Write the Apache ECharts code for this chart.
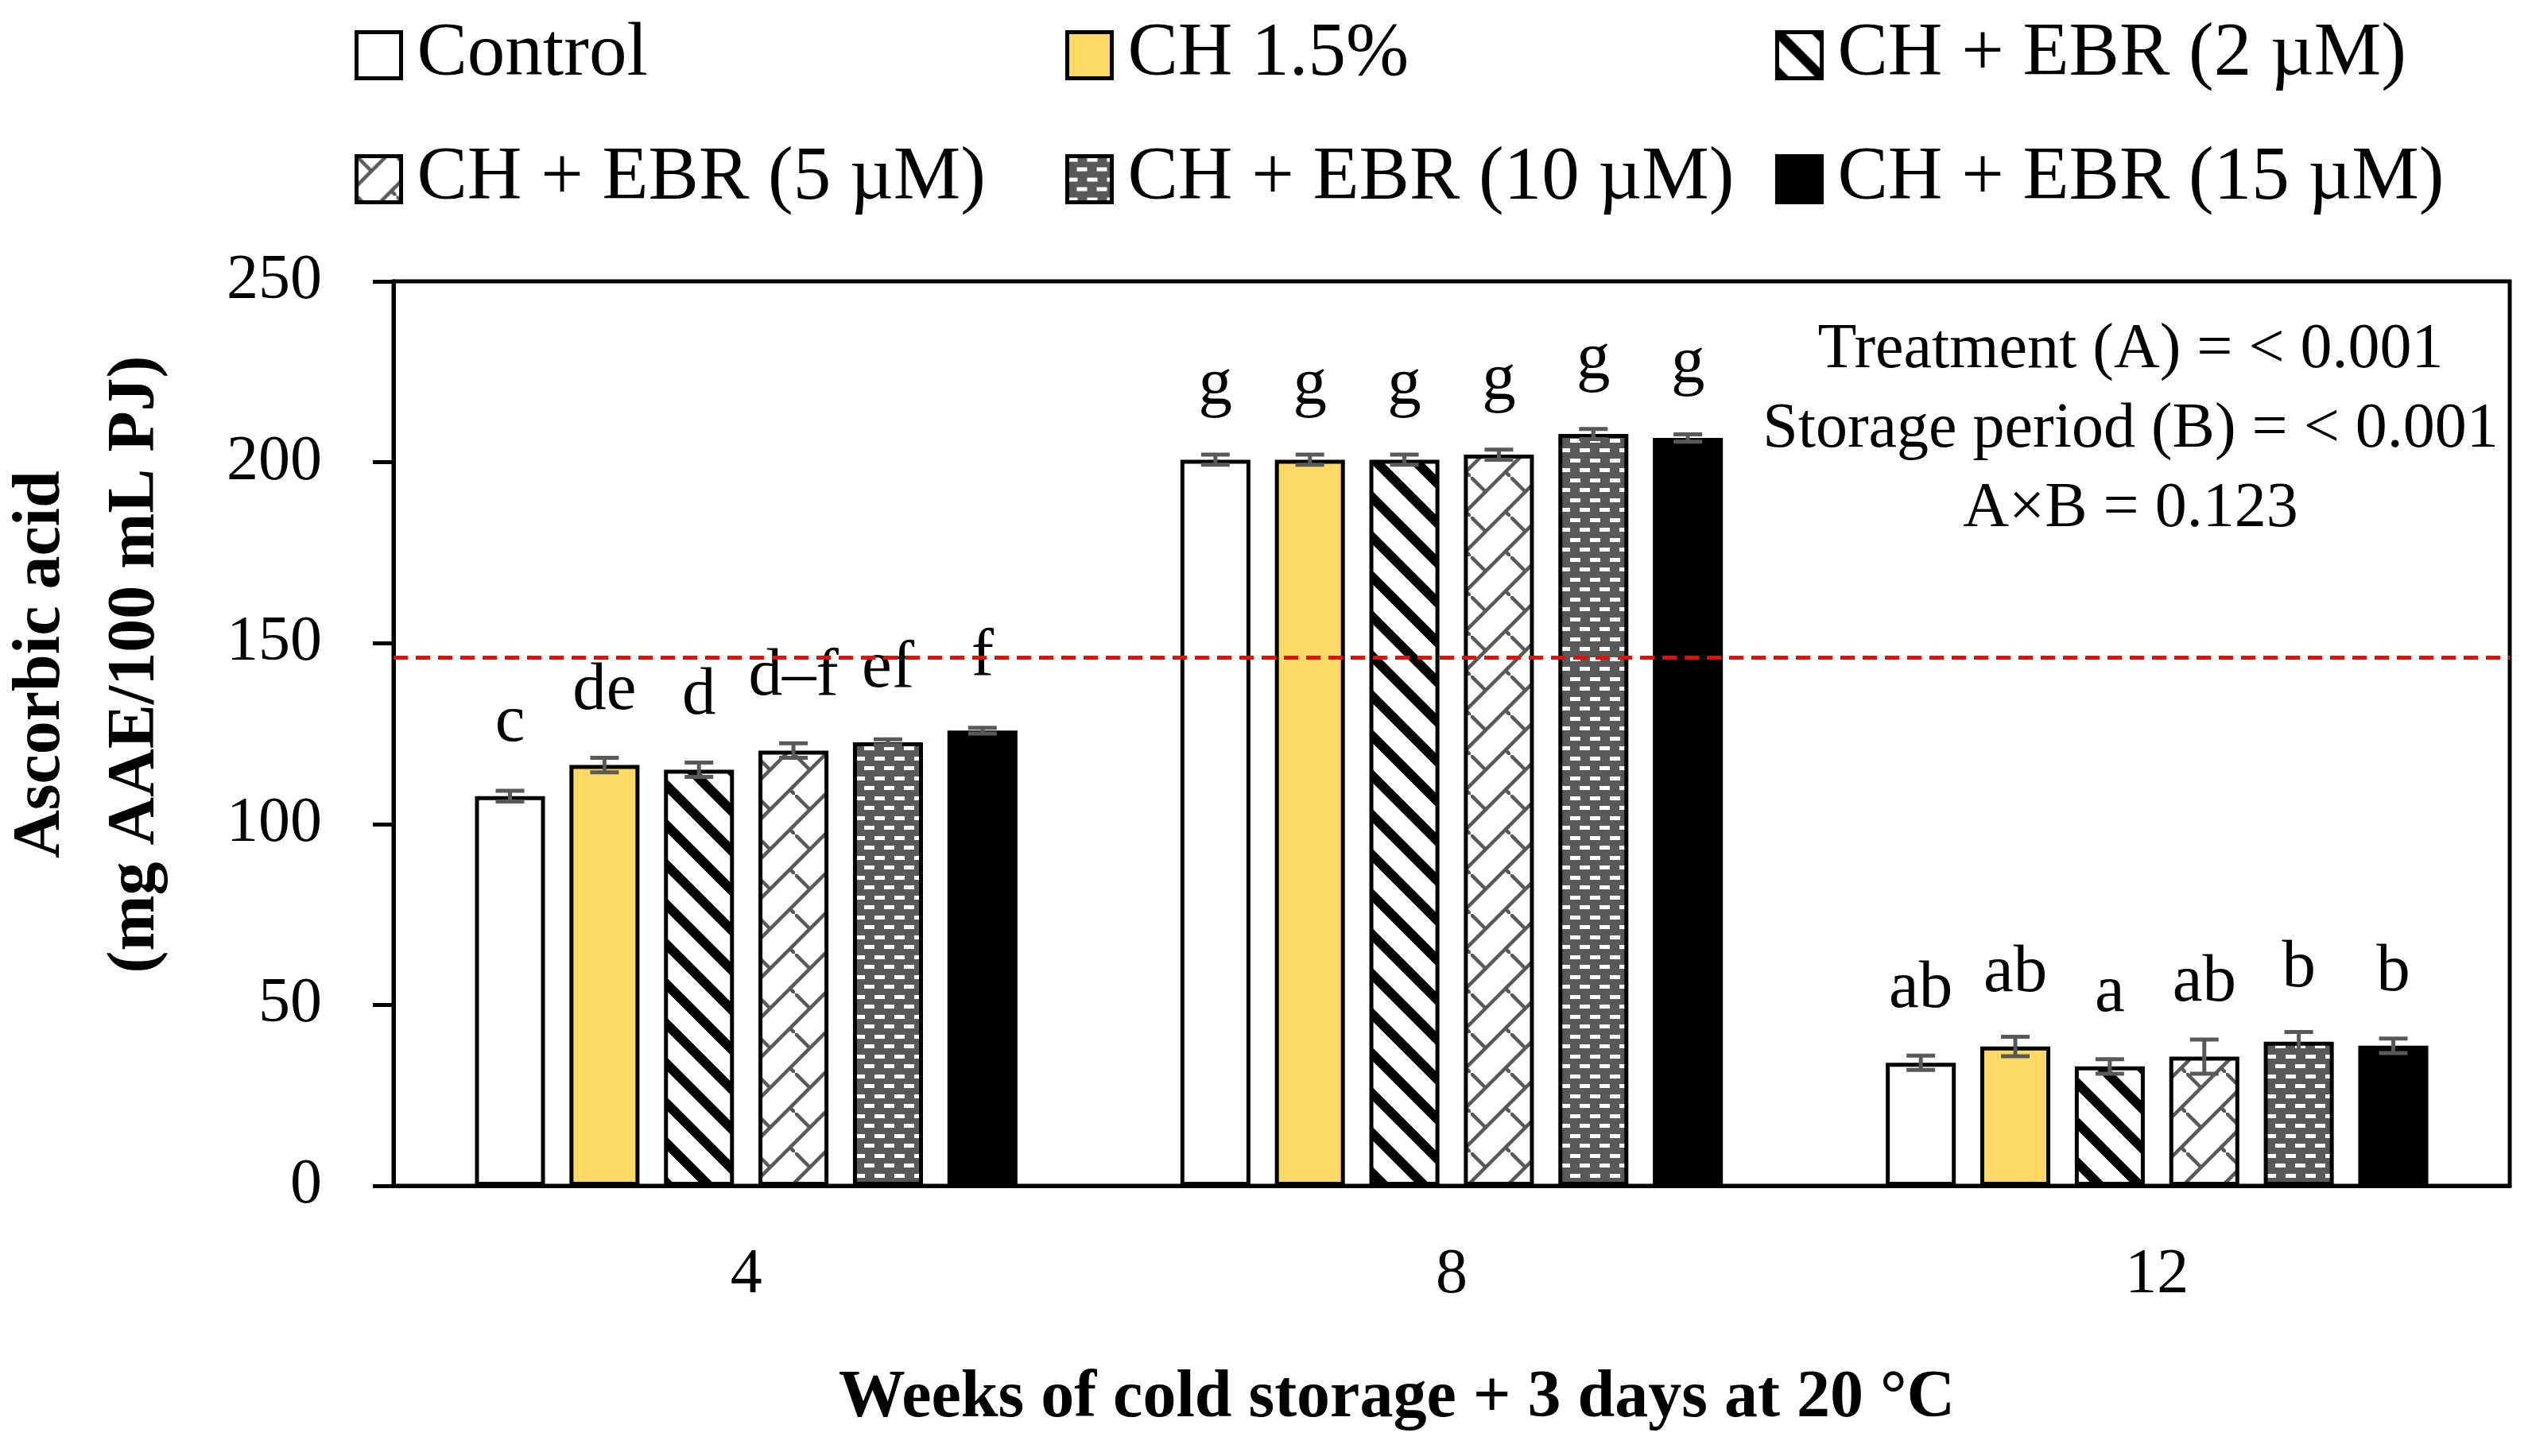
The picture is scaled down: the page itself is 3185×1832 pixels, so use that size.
<!DOCTYPE html>
<html>
<head>
<meta charset="utf-8">
<title>Ascorbic acid</title>
<script src="https://cdn.jsdelivr.net/npm/echarts@6/dist/echarts.min.js"></script>
<style>
  html, body { margin: 0; padding: 0; background: #fff; }
  #chart { width: 3185px; height: 1832px; }
</style>
</head>
<body>
<div id="chart"></div>
<script>
// weeks of cold storage (+ 3 days at 20 °C)
const weeks = ['4', '8', '12'];
const treatments = ['Control', 'CH 1.5%', 'CH + EBR (2 µM)', 'CH + EBR (5 µM)', 'CH + EBR (10 µM)', 'CH + EBR (15 µM)'];

// ascorbic acid, mg AAE/100 mL PJ, one value per week
const control = [107.7, 200.7, 34.0];
const ch15 = [116.3, 200.7, 38.5];
const ebr2 = [115.0, 200.7, 33.0];
const ebr5 = [120.3, 202.1, 35.7];
const ebr10 = [122.6, 207.8, 39.8];
const ebr15 = [125.8, 206.7, 38.7];

// error bars (+/-)
const controlErr = [1.5, 1.4, 2.0];
const ch15Err = [2.0, 1.4, 2.7];
const ebr2Err = [2.0, 1.4, 2.0];
const ebr5Err = [2.0, 1.4, 4.7];
const ebr10Err = [0.8, 1.4, 2.7];
const ebr15Err = [0.8, 1.0, 2.0];

// significance letters
const controlLetters = ['c', 'g', 'ab'];
const ch15Letters = ['de', 'g', 'ab'];
const ebr2Letters = ['d', 'g', 'a'];
const ebr5Letters = ['d–f', 'g', 'ab'];
const ebr10Letters = ['ef', 'g', 'b'];
const ebr15Letters = ['f', 'g', 'b'];

// value at harvest (red dashed line)
const initialValue = 146;

const yMin = 0;
const yMax = 250;
const yStep = 50;

const statsLines = ['Treatment (A) = < 0.001', 'Storage period (B) = < 0.001', 'A×B = 0.123'];

const values = [control, ch15, ebr2, ebr5, ebr10, ebr15];
const errors = [controlErr, ch15Err, ebr2Err, ebr5Err, ebr10Err, ebr15Err];
const letters = [controlLetters, ch15Letters, ebr2Letters, ebr5Letters, ebr10Letters, ebr15Letters];

const FONT = 'Liberation Serif';
const GRAY = '#595959';
const CAT_GAP = 0.231;
const BAR_GAP = 0.35;

/* ---------------------------- fill patterns ---------------------------- */
const makeTile = (size, draw) => {
  const c = document.createElement('canvas');
  c.width = size;
  c.height = size;
  draw(c.getContext('2d'), size);
  return c;
};

// wide downward diagonal
const stripeTile = makeTile(50, (ctx, s) => {
  ctx.fillStyle = '#fff';
  ctx.fillRect(0, 0, s, s);
  ctx.strokeStyle = '#000';
  ctx.lineWidth = 12;
  [-1, 0, 1].forEach(k => {
    ctx.beginPath();
    ctx.moveTo(-10, -10 + k * s);
    ctx.lineTo(s + 10, s + 10 + k * s);
    ctx.stroke();
  });
});

// shingle
const shingleTile = makeTile(50, (ctx, s) => {
  ctx.fillStyle = '#fff';
  ctx.fillRect(0, 0, s, s);
  ctx.strokeStyle = GRAY;
  ctx.lineWidth = 4.5;
  [37.5 - s, 37.5, 37.5 + s].forEach(c => {
    ctx.beginPath();
    ctx.moveTo(c + 10, -10);
    ctx.lineTo(c - s - 10, s + 10);
    ctx.stroke();
  });
  [0, s].forEach(o => {
    ctx.beginPath();
    ctx.moveTo(o - 6, o - 6);
    ctx.lineTo(o + 18.75, o + 18.75);
    ctx.stroke();
  });
});

// dark dotted grid
const dotTile = makeTile(25, (ctx, s) => {
  ctx.fillStyle = GRAY;
  ctx.fillRect(0, 0, s, s);
  ctx.fillStyle = '#fff';
  ctx.fillRect(0, 2, 13, 5);
  ctx.fillRect(12, 14, 13, 5);
});

const fills = [
  '#ffffff',
  '#FFD966',
  { image: stripeTile, repeat: 'repeat' },
  { image: shingleTile, repeat: 'repeat' },
  { image: dotTile, repeat: 'repeat' },
  '#000000'
];

/* ------------------------------- series -------------------------------- */
const barSeries = treatments.map((name, i) => ({
  name,
  type: 'bar',
  data: values[i],
  barCategoryGap: CAT_GAP * 100 + '%',
  barGap: BAR_GAP * 100 + '%',
  itemStyle: { color: fills[i], borderColor: '#000', borderWidth: 5 },
  label: {
    show: true,
    position: 'top',
    distance: 50,
    formatter: p => letters[i][p.dataIndex],
    fontFamily: FONT,
    fontSize: 85,
    color: '#000'
  },
  emphasis: { disabled: true },
  z: 2
}));

barSeries[0].markLine = {
  silent: true,
  z: 10,
  symbol: ['none', 'none'],
  label: { show: false },
  lineStyle: { color: '#FF0000', width: 5, type: [18, 10] },
  data: [{ yAxis: initialValue }]
};

const errorData = [];
values.forEach((vals, s) => vals.forEach((v, c) => errorData.push([c, v, errors[s][c], s])));

const errorSeries = {
  type: 'custom',
  name: 'error',
  silent: true,
  z: 4,
  data: errorData,
  encode: { x: 0, y: 1 },
  renderItem: (params, api) => {
    const c = api.value(0);
    const v = api.value(1);
    const e = api.value(2);
    const s = api.value(3);
    const band = api.size([1, 0])[0];
    const barW = (band * (1 - CAT_GAP)) / (6 + 5 * BAR_GAP);
    const dx = (s - 2.5) * barW * (1 + BAR_GAP);
    const top = api.coord([c, v + e]);
    const bot = api.coord([c, v - e]);
    const x = top[0] + dx;
    const cap = 18;
    const style = { stroke: GRAY, lineWidth: 5 };
    return {
      type: 'group',
      children: [
        { type: 'line', shape: { x1: x, y1: top[1], x2: x, y2: bot[1] }, style },
        { type: 'line', shape: { x1: x - cap, y1: top[1], x2: x + cap, y2: top[1] }, style },
        { type: 'line', shape: { x1: x - cap, y1: bot[1], x2: x + cap, y2: bot[1] }, style }
      ]
    };
  }
};

/* ------------------------------- legend -------------------------------- */
const legendCols = [446, 1340, 2233];
const legendRows = [22, 178];

const legends = treatments.map((name, i) => ({
  data: [name],
  left: legendCols[i % 3],
  top: legendRows[Math.floor(i / 3)],
  padding: 0,
  icon: 'rect',
  itemWidth: 56,
  itemHeight: 58,
  selectedMode: false,
  itemStyle: { borderColor: '#000', borderWidth: 5 },
  textStyle: {
    fontFamily: FONT,
    fontSize: 95,
    color: '#000',
    lineHeight: 58,
    padding: [0, 0, 12, 15]
  }
}));

/* -------------------------------- chart -------------------------------- */
const chart = echarts.init(document.getElementById('chart'));

chart.setOption({
  animation: false,
  backgroundColor: '#fff',
  textStyle: { fontFamily: FONT, color: '#000' },
  legend: legends,
  grid: {
    left: 495,
    right: 28,
    top: 354,
    bottom: 340,
    show: true,
    borderColor: '#000',
    borderWidth: 5,
    containLabel: false,
    outerBoundsMode: 'none'
  },
  xAxis: {
    type: 'category',
    data: weeks,
    axisLine: { lineStyle: { color: '#000', width: 5 } },
    axisTick: { alignWithLabel: true, length: 20, lineStyle: { color: '#000', width: 3 } },
    axisLabel: { fontFamily: FONT, fontSize: 80, margin: 73, color: '#000' },
    name: 'Weeks of cold storage + 3 days at 20 °C',
    nameLocation: 'middle',
    nameGap: 226,
    nameTextStyle: {
      fontFamily: FONT,
      fontSize: 84,
      fontWeight: 'bold',
      color: '#000',
      padding: [0, 138, 0, 0]
    }
  },
  yAxis: {
    type: 'value',
    min: yMin,
    max: yMax,
    interval: yStep,
    axisLine: { show: true, lineStyle: { color: '#000', width: 5 } },
    axisTick: { show: true, length: 26, lineStyle: { color: '#000', width: 5 } },
    axisLabel: { fontFamily: FONT, fontSize: 80, margin: 90, color: '#000' },
    splitLine: { show: false },
    name: 'Ascorbic acid\n(mg AAE/100 mL PJ)',
    nameLocation: 'middle',
    nameRotate: 90,
    nameGap: 264,
    nameTextStyle: {
      fontFamily: FONT,
      fontSize: 84,
      fontWeight: 'bold',
      color: '#000',
      lineHeight: 119,
      padding: [0, 0, 0, 174]
    }
  },
  graphic: [
    {
      type: 'text',
      x: 2680,
      y: 391,
      silent: true,
      style: {
        text: statsLines.join('\n'),
        align: 'center',
        verticalAlign: 'top',
        fontFamily: FONT,
        fontSize: 80,
        lineHeight: 100,
        fill: '#000'
      }
    }
  ],
  series: [...barSeries, errorSeries]
});
</script>
</body>
</html>
